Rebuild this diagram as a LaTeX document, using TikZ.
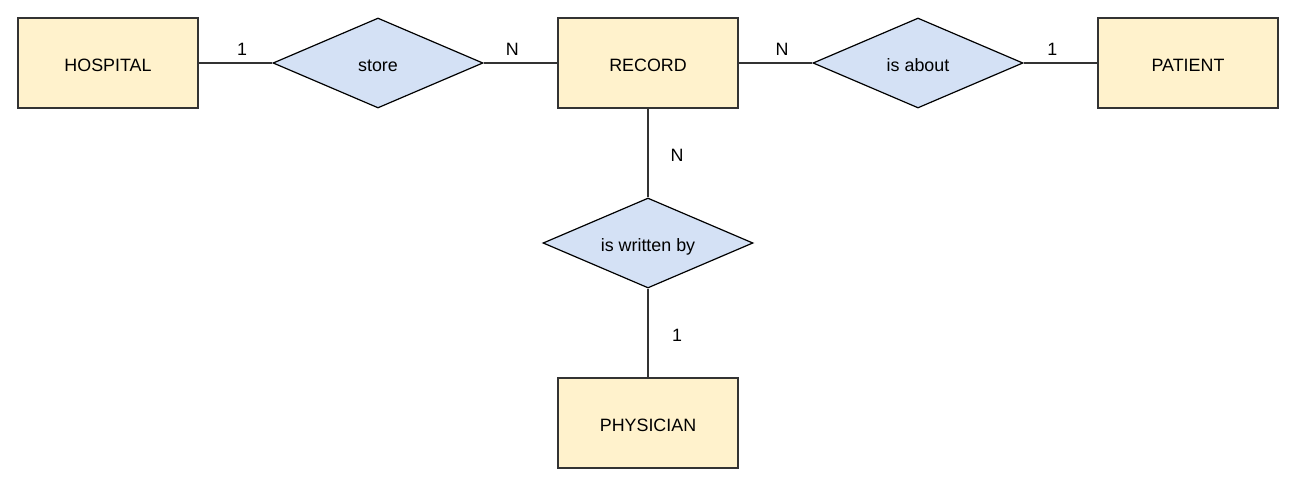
\documentclass[tikz,border=0pt]{standalone}
\usepackage{fontspec}
\setmainfont{Liberation Sans}
\usetikzlibrary{shapes.geometric}
\definecolor{entfill}{HTML}{FFF2CC}
\definecolor{relfill}{HTML}{D4E1F5}
\definecolor{framegray}{HTML}{333333}
\begin{document}
\begin{tikzpicture}[x=0.75pt,y=-0.75pt,
    entity/.style={draw=framegray,fill=entfill,line width=1pt,
      minimum width=135pt,minimum height=67.5pt,inner sep=0pt,
      text height=12.5pt,text depth=0pt,
      font=\fontsize{13.4}{15}\selectfont},
    relation/.style={diamond,draw=black,fill=relfill,line width=0.9pt,
      aspect=2.33,minimum width=157.5pt,minimum height=67.5pt,inner sep=0pt,
      text height=12.5pt,text depth=0pt,
      font=\fontsize{13.4}{15}\selectfont},
    card/.style={font=\fontsize{13.4}{15}\selectfont,inner sep=0pt}]
  \useasboundingbox (0,0) rectangle (1302,482);
  \draw
    (108,63) node[entity] (hospital){HOSPITAL}
    (378,63) node[relation] (store){store}
    (648,63) node[entity] (record){RECORD}
    (918,63) node[relation] (about){is about}
    (1188,63) node[entity] (patient){PATIENT}
    (648,243) node[relation] (written){is written by}
    (648,423) node[entity] (physician){PHYSICIAN};
  \begin{scope}[-,line width=0.9pt,draw=framegray]
    \draw (hospital) to node[card,pos=.59,yshift=10.5pt]{1} (store);
    \draw (store) to node[card,pos=.39,yshift=10.5pt]{N} (record);
    \draw (record) to node[card,pos=.59,yshift=10.5pt]{N} (about);
    \draw (about) to node[card,pos=.39,yshift=10.5pt]{1} (patient);
    \draw (record) to node[card,pos=.52,xshift=21.75pt,yshift=-0.75pt]{N} (written);
    \draw (written) to node[card,pos=.52,xshift=21.75pt,yshift=-0.75pt]{1} (physician);
  \end{scope}
\end{tikzpicture}
\end{document}
